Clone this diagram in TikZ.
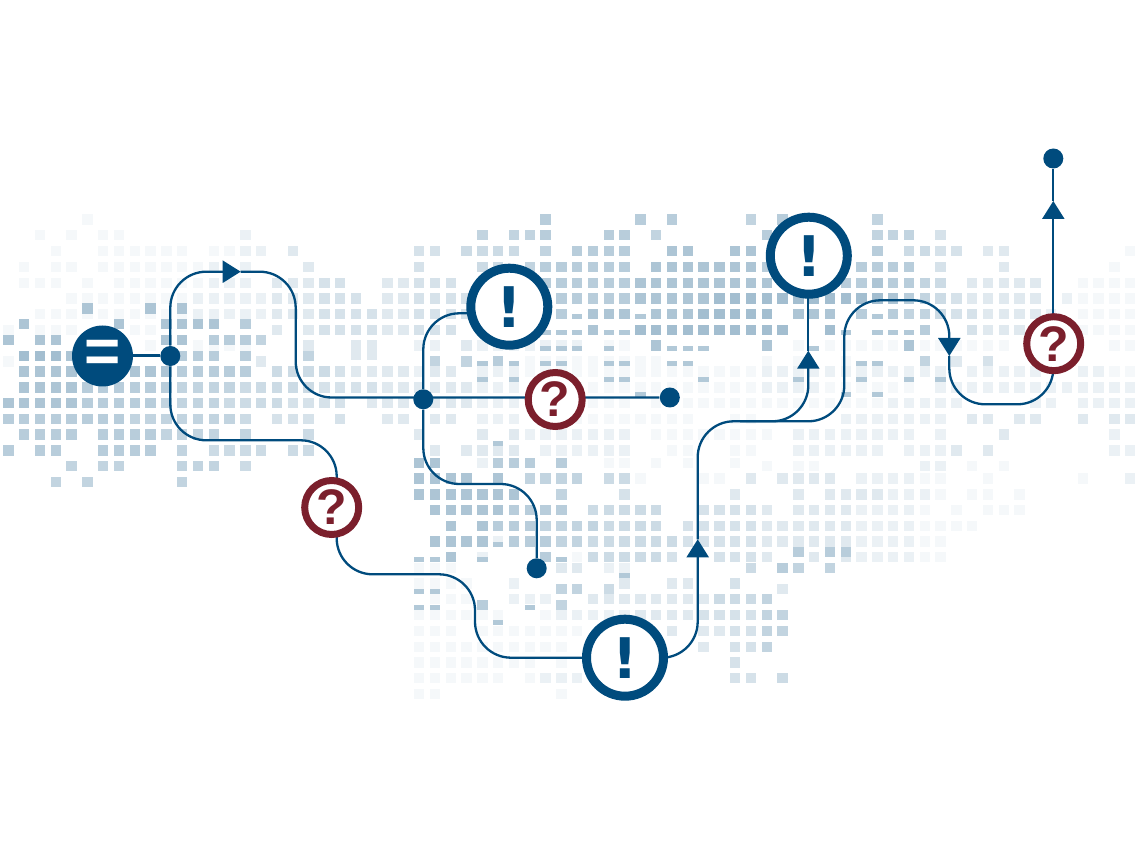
\documentclass[tikz,border=0pt]{standalone}
\usepackage{fontspec}
\setmainfont{Liberation Sans}
\newfontfamily\alertfont{DejaVu Sans}
\usetikzlibrary{arrows.meta}
\definecolor{pathblue}{HTML}{004B7D}
\definecolor{askred}{HTML}{7B1F2C}
\pgfdeclarelayer{map}
\pgfdeclarelayer{lines}
\pgfsetlayers{map,lines,main}

% one row of the map: a digit per column, 1 pale ... 9 dark, . for none
\newcount\mapcol
\newcommand{\mapcell}[1]{%
  \edef\mappct{\the\numexpr#1*4\relax}%
  \fill[pathblue!\mappct!white] ({3.1+15.8*\the\mapcol},{\maprowy-5.2}) rectangle +(10.4,10.4);}
\def\mapscan#1{\ifx#1;\else\if#1.\else\mapcell{#1}\fi\global\advance\mapcol by 1 \expandafter\mapscan\fi}
\newcommand{\maprow}[2]{\global\mapcol=0 \def\maprowy{#1}\mapscan#2;}

\begin{document}
\begin{tikzpicture}[
    x=0.5pt, y=-0.5pt,
    flow/.style={draw=pathblue, line width=1.15pt, rounded corners=18pt},
    link/.style={draw=pathblue, line width=1.5pt},
    tip/.style={-{Triangle[length=9pt,width=11pt]}},
    dot/.style={circle, fill=pathblue, inner sep=0pt, minimum size=10pt},
    alert/.style={circle, draw=pathblue, fill=white, line width=4.5pt, inner sep=0pt,
                  minimum size=38.5pt, text=pathblue,
                  font=\alertfont\fontsize{28}{30}\selectfont\bfseries},
    ask/.style={circle, draw=askred, fill=white, line width=3.5pt, inner sep=0pt,
                minimum size=27pt, text=askred,
                font=\fontsize{25}{26}\selectfont\bfseries},
    same/.style={circle, fill=pathblue, inner sep=0pt, minimum size=30.5pt, text=white,
                 font=\fontsize{31}{31}\selectfont\bfseries},
]
\useasboundingbox (0,0) rectangle (1140,855);

% ---------------- Map of squares ----------------
\begin{pgfonlayer}{map}
\maprow{219.5}{.....1.. ........ ........ ........ ..7..... 7.7....6 .7.....6}
\maprow{235.3}{..1.1.11 .......2 ........ ......6. 667...77 .6...... 7......6 66.4....}
\maprow{251}{...1..11 1111.112 2.3..... ..44.555 5.6.7777 ..88..88 .......7 .5544.33 .......1}
\maprow{267}{.1.11.11 111112.2 ...3.... ..4...55 .6777777 .8888888 7.....77 77.4...3 ......1.}
\maprow{283}{.111.1.1 11111222 .33344.. 33444... ..777777 88888888 8....778 7765.333 33..1111}
\maprow{298.6}{....1111 11112222 2333444. 334444.. ...77777 88888999 99999999 87654333 33.21111}
\maprow{314.3}{..111111 11112222 23334444 334444.. ...7.888 .8889999 9.888.7. 76654433 332.1111}
\maprow{330}{1.111... 11...... .3.34444 33444... .....8.. 99999999 99..9... ..7..433 32.21111}
\maprow{345.7}{........ .1..1111 ...3..33 ..22.322 22222.11 .8...... 8.1.1111 18111111 ......11}
\maprow{361.7}{1....... ........ 3....... ...6.6.7 .1111111 11...... 1.1..1.. ..6.3.4.}
\maprow{355}{........ ........ ......33}
\maprow{371.7}{.8888888 88877777 .5555433 33233.22 21111111 11111111 22222222 2222.222 22..2211}
\maprow{387.5}{.8888777 77766665 55554444 33333322 2.111111 11111111 22221111 11.22222 22222222}
\maprow{403.2}{88888777 77666655 554444.3 33.33322 2..1.111 .1.11111 11111111 22222... .22.2222}
\maprow{419}{77777777 66666665 .444.4.. 33.33.22 2..11111 1111..11 .....222 2222.33. 33..3.33}
\maprow{434.7}{.7777.77 776666.6 ...5.... ..3...3. 32222222 .1111111 1.222222 22.2...3 ......2.}
\maprow{450.5}{7.77..77 77.6.555 5.55.... ...3.333 3.222222 ..11..11 ..222222 .2223.3. ......22}
\maprow{462.7}{........ ........ ........ ..88..27 77.7..11 .1.1..1.}
\maprow{466.2}{....6.66 ...666.5 ........ ........ ........ ........ 1.11.... ..22.1.1}
\maprow{478.3}{........ ........ ........ ..8888.8 .6666.55 1...11.3 .3333.22 2211..1. ....1..2}
\maprow{482}{...6.6.. ...6....}
\maprow{494.3}{........ ........ ........ ..888888 8..6...4 ......3. ..3.3333 2221.11. 1.......}
\maprow{510}{........ ........ ........ ...88888 7777.555 55..4444 3.333322 221.1.11 1.......}
\maprow{526}{........ ........ ........ ....8.87 77666655 55.44444 33333322 221111..}
\maprow{541.3}{........ ........ ........ ...88882 77766555 55544444 33333322 2211....}
\maprow{557}{........ ........ ........ ....8.2. ..7.1555 554..444 3..3.322 2211....}
\maprow{552}{........ ........ ........ ........ ........ ........ ..7.77..}
\maprow{567.7}{........ ........ ........ ..111... ...33.22 .......5 .76.6...}
\maprow{583.3}{........ ........ ........ ..1111.. 2......3 ..33..4.}
\maprow{599}{........ ........ ........ ...111.. 222..333 33333555 6.......}
\maprow{588.7}{........ ........ ........ ........ ...66.5. ........ .3......}
\maprow{615}{........ ........ ........ ..111111 ..122222 33334444 66......}
\maprow{604.7}{........ ........ ........ ......7. ...6....}
\maprow{630.7}{........ ........ ........ ..111.11 11111... ..3.3344 66......}
\maprow{646.7}{........ ........ ........ ..111111 1111.... ....3.44 6.......}
\maprow{662.3}{........ ........ ........ ..111111 11.1.... ......4.}
\maprow{678}{........ ........ ........ ..111111 .1222... ......44 .5......}
\maprow{694}{........ ........ ........ ..11.... ...1....}
% the darker squares of the second map layer lie on top
\maprow{308.7}{.....8.. .8.8....}
\maprow{324.3}{.8.....8 ..8888.7}
\maprow{340}{8.88.... ..88.777 6.......}
\maprow{356}{.9998... ...777.7 ...6....}
\foreach \c/\y in {36/316.7, 40/316.7, 55/316.7,
    34/332.3, 35/332.3, 36/332.3, 38/332.3, 39/332.3, 53/332.3, 55/332.3, 56/332.3, 57/332.3,
    34/348.3, 35/348.3, 36/348.3, 38/348.3, 42/348.3, 43/348.3, 44/348.3, 51/348.3,
    30/364, 32/364, 34/364, 35/364, 38/364, 39/364, 42/364, 43/364, 54/364, 55/364,
    30/379.7, 32/379.7, 38/379.7, 39/379.7, 44/379.7, 50/379.7, 54/379.7, 57/379.7, 59/379.7,
    40/395, 53/395, 55/395, 31/443.5, 31/544,
    26/559.3, 27/559.3, 30/559.3, 35/559.3, 39/575,
    26/591.3, 27/591.3, 26/607, 27/607, 33/607, 31/622.7}
  \fill[pathblue!30!white] ({3.1+15.8*\c},{\y-2.5}) rectangle +(10.4,5);
\end{pgfonlayer}

% ---------------- Nodes ----------------
\node[same] (eq) at (102.5,356) {=};
\node[dot] (j1) at (170.3,356) {};
\node[dot] (j2) at (423.3,399.3) {};
\node[dot] (d3) at (669.8,397.5) {};
\node[dot] (d4) at (536.7,568.3) {};
\node[dot] (d5) at (1053.3,158.5) {};
\node[alert] (e1) at (509.3,306.7) {!};
\node[alert] (e2) at (808.8,255.7) {!};
\node[alert] (e3) at (625,657.7) {!};
\node[ask] (q1) at (331.7,507.5) {?};
\node[ask] (q2) at (555.2,399.5) {?};
\node[ask] (q3) at (1053.7,343.7) {?};

\coordinate (tipa) at (240.7,271.7);
\coordinate (tipb) at (697.7,539.3);
\coordinate (tipc) at (949.3,356);
\coordinate (tipd) at (1053.3,201);
\coordinate (tipe) at (808.3,350.7);
\coordinate (bend1) at (295.7,397.5);
\coordinate (bend2) at (336.7,440.3);
\coordinate (bend3) at (475,574.3);
\coordinate (bend4) at (844.3,421.3);
\coordinate (bend5) at (844.3,300.3);
\coordinate (bend6) at (1053.3,404.3);
\coordinate (bend7) at (740,421.3);
\coordinate (bend8) at (536.7,484);
\coordinate (e1in) at (470,313.3);

% ---------------- Connectors ----------------
\begin{pgfonlayer}{lines}
\draw[link] (eq) -- (j1);
\draw[flow, tip] (j1) |- (tipa);
\draw[flow] (tipa) -| (bend1) -- (d3);
\draw[flow] (j1) |- (bend2) -- (bend2 |- q1);
\draw[flow] (bend2 |- q1) |- (bend3) -- (bend3 |- e3) -- (e3);
\draw[flow, tip] (e3) -| (tipb);
\draw[flow, tip] (tipb) |- (bend4) -- (bend5) -| (tipc);
\draw[flow] (tipc) |- (bend6) -- (bend6 |- q3);
\draw[flow, tip] (tipd |- q3) -- (tipd);
\draw[flow] (tipd) -- (d5);
\draw[flow, tip] (bend7) -| (tipe);
\draw[flow] (tipe) -- (tipe |- e2);
\draw[flow] (j2) |- (e1in);
\draw[flow] (j2) |- (bend8) -- (d4);
\end{pgfonlayer}

\end{tikzpicture}
\end{document}
